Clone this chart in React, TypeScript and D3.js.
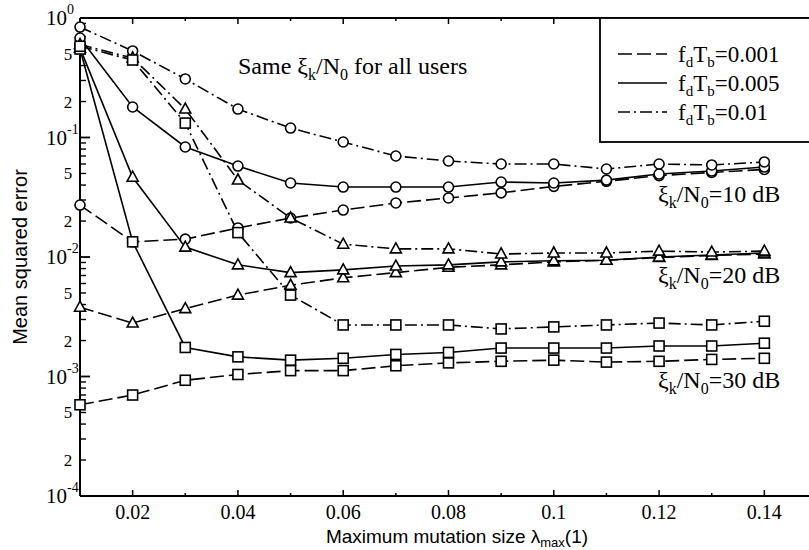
import React from "react";
import * as d3 from "d3";

const lambdaMax = [0.01, 0.02, 0.03, 0.04, 0.05, 0.06, 0.07, 0.08, 0.09, 0.1, 0.11, 0.12, 0.13, 0.14];

// 10 dB (circles)
const c10_001 = [0.0272, 0.0134, 0.0141, 0.0175, 0.0212, 0.0247, 0.0283, 0.0312, 0.0344, 0.039, 0.043, 0.048, 0.051, 0.054];
const c10_005 = [0.68, 0.18, 0.0833, 0.0577, 0.0416, 0.0385, 0.0385, 0.0385, 0.0424, 0.0416, 0.044, 0.0495, 0.0524, 0.0566];
const c10_01 = [0.84, 0.53, 0.309, 0.173, 0.12, 0.0917, 0.07, 0.0636, 0.06, 0.06, 0.0545, 0.06, 0.0589, 0.0624];
// 20 dB (triangles)
const t20_001 = [0.0038, 0.0028, 0.0037, 0.0048, 0.0058, 0.0067, 0.0074, 0.0082, 0.0086, 0.0091, 0.0094, 0.0099, 0.0103, 0.0106];
const t20_005 = [0.56, 0.0465, 0.0121, 0.0086, 0.0074, 0.0078, 0.0084, 0.0086, 0.0091, 0.0093, 0.0094, 0.01, 0.0104, 0.0108];
const t20_01 = [0.6, 0.463, 0.173, 0.0441, 0.0212, 0.0128, 0.0117, 0.0117, 0.0106, 0.0108, 0.0108, 0.0112, 0.011, 0.0112];
// 30 dB (squares)
const s30_001 = [0.00058, 0.0007, 0.00093, 0.00104, 0.00112, 0.00112, 0.00123, 0.0013, 0.00134, 0.00137, 0.00132, 0.00134, 0.00139, 0.00142];
const s30_005 = [0.55, 0.0134, 0.00175, 0.00146, 0.00137, 0.00142, 0.00153, 0.00159, 0.00173, 0.00173, 0.00173, 0.0018, 0.0018, 0.0019];
const s30_01 = [0.58, 0.445, 0.132, 0.016, 0.0048, 0.0027, 0.0027, 0.0027, 0.0025, 0.0026, 0.0027, 0.0028, 0.0027, 0.0029];

const legendLabels = ["0.001", "0.005", "0.01"];
const snrLabels = ["10", "20", "30"];
const xTickLabels = ["0.02", "0.04", "0.06", "0.08", "0.1", "0.12", "0.14"];
const yMajorExps = [0, -1, -2, -3, -4];
const yMinorLabels = ["5", "2"];

const DASH = "14,5";
const SOLID = "";
const DASHDOT = "12,4,2,4";
const styles = [DASH, SOLID, DASHDOT];

type S = { values: number[]; marker: "circle" | "triangle" | "square"; dash: string };
const series: S[] = [
  { values: c10_001, marker: "circle", dash: DASH },
  { values: c10_005, marker: "circle", dash: SOLID },
  { values: c10_01, marker: "circle", dash: DASHDOT },
  { values: t20_001, marker: "triangle", dash: DASH },
  { values: t20_005, marker: "triangle", dash: SOLID },
  { values: t20_01, marker: "triangle", dash: DASHDOT },
  { values: s30_001, marker: "square", dash: DASH },
  { values: s30_005, marker: "square", dash: SOLID },
  { values: s30_01, marker: "square", dash: DASHDOT },
];

const W = 809;
const H = 550;
const L = 80;
const T = 18;
const B = 496;
const R = 809;

const x = d3.scaleLinear().domain([0.01, 0.15]).range([80, 817]);
const y = d3.scaleLog().domain([1e-4, 1]).range([B, T]);

const serif: React.CSSProperties = { fontFamily: '"Liberation Serif", "Times New Roman", Times, serif' };
const sans: React.CSSProperties = { fontFamily: '"Liberation Sans", Arial, Helvetica, sans-serif' };

function Marker({ kind, cx, cy }: { kind: string; cx: number; cy: number }) {
  const common = { fill: "white", stroke: "black", strokeWidth: 1.6 };
  if (kind === "circle") return <circle cx={cx} cy={cy} r={5} {...common} />;
  if (kind === "square") return <rect x={cx - 5} y={cy - 5} width={10} height={10} {...common} />;
  const h = 10;
  const pts = `${cx},${cy - h * 0.6} ${cx - 5.5},${cy + h * 0.4} ${cx + 5.5},${cy + h * 0.4}`;
  return <polygon points={pts} {...common} />;
}

export default function App() {
  const line = d3
    .line<number>()
    .x((_, i) => x(lambdaMax[i]))
    .y((d) => y(d));

  const xMinor = d3.range(1, 16).map((i) => i / 100);
  const yMinorTicks: number[] = [];
  for (let e = -4; e < 0; e++) for (let m = 2; m <= 9; m++) yMinorTicks.push(m * Math.pow(10, e));

  const order = ["circle", "triangle", "square"];

  return (
    <svg width={W} height={H} style={{ position: "absolute", left: 0, top: 0, background: "white" }}>
      <rect x={0} y={0} width={W} height={H} fill="white" />
      {/* axes frame */}
      <line x1={L} y1={T} x2={L} y2={B} stroke="black" strokeWidth={2} />
      <line x1={L} y1={B} x2={R} y2={B} stroke="black" strokeWidth={2} />
      <line x1={L} y1={T} x2={R} y2={T} stroke="black" strokeWidth={2} />

      {/* x ticks */}
      {xMinor.map((v, i) => {
        const major = Math.round(v * 100) % 2 === 0;
        const len = major ? 6 : 3;
        const px = x(v);
        if (px > R) return null;
        return (
          <g key={"xt" + i}>
            <line x1={px} x2={px} y1={B} y2={B - len} stroke="black" strokeWidth={1.5} />
            <line x1={px} x2={px} y1={T} y2={T + len} stroke="black" strokeWidth={1.5} />
          </g>
        );
      })}
      {xTickLabels.map((t) => (
        <text key={"xl" + t} x={x(+t)} y={519} textAnchor="middle" style={serif} fontSize={20}>
          {t}
        </text>
      ))}

      {/* y ticks */}
      {yMajorExps.map((e) => (
        <g key={"ym" + e}>
          <line x1={L} x2={L + 10} y1={y(Math.pow(10, e))} y2={y(Math.pow(10, e))} stroke="black" strokeWidth={1.8} />
          <text x={L - 13} y={y(Math.pow(10, e)) + 7} textAnchor="end" style={serif} fontSize={21}>
            10
          </text>
          <text x={L - 13} y={y(Math.pow(10, e)) - 4} textAnchor="start" style={serif} fontSize={14}>
            {e}
          </text>
        </g>
      ))}
      {yMinorTicks.map((v, i) => (
        <line key={"yn" + i} x1={L} x2={L + 6} y1={y(v)} y2={y(v)} stroke="black" strokeWidth={1.4} />
      ))}
      {[-1, -2, -3, -4].map((e) =>
        yMinorLabels.map((lab) => (
          <text
            key={"yl" + e + lab}
            x={L - 12}
            y={y(+lab * Math.pow(10, e)) + 6}
            textAnchor="middle"
            style={serif}
            fontSize={17}
          >
            {lab}
          </text>
        ))
      )}

      {/* axis titles */}
      <text
        transform={`translate(27,${(T + B) / 2}) rotate(-90)`}
        textAnchor="middle"
        style={sans}
        fontSize={20}
      >
        Mean squared error
      </text>
      <text x={457} y={543} textAnchor="middle" style={sans} fontSize={19}>
        Maximum mutation size λ
        <tspan fontSize={13} dy={4}>max</tspan>
        <tspan dy={-4}>(1)</tspan>
      </text>

      {/* lines */}
      {series.map((s, i) => (
        <path
          key={"p" + i}
          d={line(s.values) || ""}
          fill="none"
          stroke="black"
          strokeWidth={1.6}
          strokeDasharray={s.dash || undefined}
        />
      ))}
      {/* markers */}
      {order.map((kind) =>
        series
          .filter((s) => s.marker === kind)
          .map((s, si) =>
            s.values.map((v, i) => (
              <Marker key={kind + si + "-" + i} kind={kind} cx={x(lambdaMax[i])} cy={y(v)} />
            ))
          )
      )}

      {/* annotations */}
      <text x={238} y={74} style={serif} fontSize={24}>
        Same ξ<tspan fontSize={16} dy={6}>k</tspan>
        <tspan dy={-6}>/N</tspan>
        <tspan fontSize={16} dy={6}>0</tspan>
        <tspan dy={-6}> for all users</tspan>
      </text>
      {snrLabels.map((s, i) => (
        <text key={"snr" + s} x={658} y={[202, 283, 388][i]} style={serif} fontSize={24}>
          ξ<tspan fontSize={16} dy={6}>k</tspan>
          <tspan dy={-6}>/N</tspan>
          <tspan fontSize={16} dy={6}>0</tspan>
          <tspan dy={-6}>={s} dB</tspan>
        </text>
      ))}

      {/* legend */}
      <rect x={600} y={T} width={220} height={124} fill="white" stroke="black" strokeWidth={1.8} />
      {legendLabels.map((lab, i) => {
        const ly = 54 + i * 29;
        return (
          <g key={"lg" + lab}>
            <line x1={618} x2={667} y1={ly} y2={ly} stroke="black" strokeWidth={1.6} strokeDasharray={styles[i] || undefined} />
            <text x={678} y={ly + 8} style={serif} fontSize={23}>
              f<tspan fontSize={15} dy={5}>d</tspan>
              <tspan dy={-5}>T</tspan>
              <tspan fontSize={15} dy={5}>b</tspan>
              <tspan dy={-5}>={lab}</tspan>
            </text>
          </g>
        );
      })}
    </svg>
  );
}
